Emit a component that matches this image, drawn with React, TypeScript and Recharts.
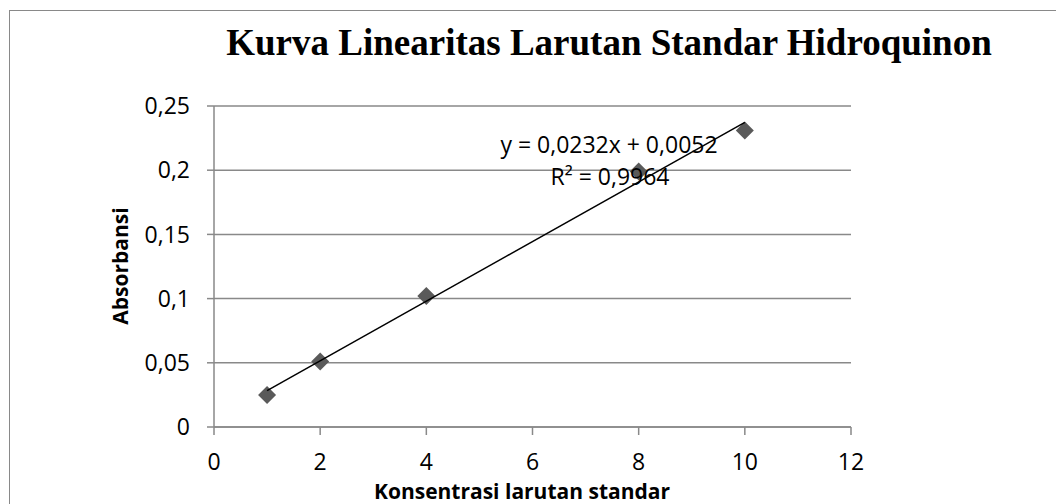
import { ScatterChart, Scatter, XAxis, YAxis, CartesianGrid } from 'recharts';

const concentrations = [1, 2, 4, 8, 10];
const absorbances = [0.025, 0.051, 0.102, 0.199, 0.231];
// trendline end points (y = 0,0232x + 0,0052)
const trendX = [1, 10];
const trendY = [0.0284, 0.2372];
const xTicks = [0, 2, 4, 6, 8, 10, 12];
const yTicks = [0, 0.05, 0.1, 0.15, 0.2, 0.25];
const title = 'Kurva Linearitas Larutan Standar Hidroquinon';
const xTitle = 'Konsentrasi larutan standar';
const yTitle = 'Absorbansi';
const equation = 'y = 0,0232x + 0,0052';
const rSquared = 'R² = 0,9964';

const points = concentrations.map((x, i) => ({ x, y: absorbances[i] }));
const trend = trendX.map((x, i) => ({ x, y: trendY[i] }));

const gray = '#898989';
const font = '"Open Sans", sans-serif';
const tickStyle = { fontSize: 23, fill: '#000', fontFamily: font };

const Diamond = (props: any) => {
  const { cx, cy } = props;
  const r = 9;
  return (
    <polygon
      points={`${cx},${cy - r} ${cx + r},${cy} ${cx},${cy + r} ${cx - r},${cy}`}
      fill="#5a5a5a"
    />
  );
};

const comma = (v: number) => String(v).replace('.', ',');

export default function App() {
  return (
    <div style={{ position: 'absolute', left: 0, top: 0, width: 1056, height: 504, overflow: 'hidden', background: '#fff' }}>
      <div style={{ position: 'absolute', left: 9, top: 10, width: 1200, height: 700, border: `1px solid ${gray}` }} />
      <ScatterChart width={1056} height={504} margin={{ top: 106, right: 205, bottom: 27, left: 114 }} style={{ position: 'absolute', left: 0, top: 0 }}>
        <CartesianGrid vertical={false} stroke={gray} strokeWidth={1.5} />
        <XAxis
          type="number"
          dataKey="x"
          domain={[0, 12]}
          ticks={xTicks}
          height={50}
          tickSize={8}
          tickMargin={19}
          tick={tickStyle}
          axisLine={{ stroke: gray, strokeWidth: 1.5 }}
          tickLine={{ stroke: gray, strokeWidth: 1.5 }}
        />
        <YAxis
          type="number"
          dataKey="y"
          domain={[0, 0.25]}
          ticks={yTicks}
          width={100}
          tickSize={7}
          tickMargin={17}
          tickFormatter={comma}
          tick={tickStyle}
          axisLine={{ stroke: gray, strokeWidth: 1.5 }}
          tickLine={{ stroke: gray, strokeWidth: 1.5 }}
        />
        <Scatter data={points} shape={Diamond} isAnimationActive={false} />
        <Scatter
          data={trend}
          line={{ stroke: '#000', strokeWidth: 1.5 }}
          shape={() => <g />}
          isAnimationActive={false}
        />
      </ScatterChart>
      <svg width={1056} height={504} style={{ position: 'absolute', left: 0, top: 0, pointerEvents: 'none' }}>
        <text x={609} y={55} textAnchor="middle" fontFamily='"Liberation Serif", serif' fontWeight="bold" fontSize={37}>
          {title}
        </text>
        <text x={609} y={153} textAnchor="middle" fontFamily={font} fontSize={23}>
          {equation}
        </text>
        <text x={610} y={185} textAnchor="middle" fontFamily={font} fontSize={23}>
          {rSquared}
        </text>
        <text x={522} y={499} textAnchor="middle" fontFamily={font} fontWeight="bold" fontSize={21}>
          {xTitle}
        </text>
        <text x={128} y={266} textAnchor="middle" fontFamily={font} fontWeight="bold" fontSize={21} transform="rotate(-90 128 266)">
          {yTitle}
        </text>
      </svg>
    </div>
  );
}
